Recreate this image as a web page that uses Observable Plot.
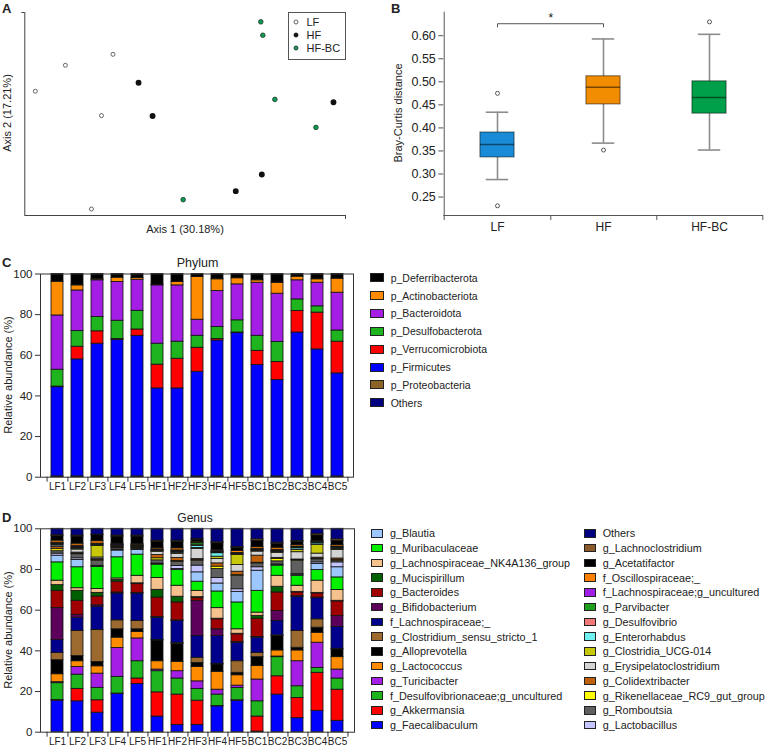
<!DOCTYPE html>
<html><head><meta charset="utf-8">
<script src="https://cdn.jsdelivr.net/npm/d3@7"></script>
<script src="https://cdn.jsdelivr.net/npm/@observablehq/plot@0.6"></script>
<style>
body{margin:0;background:#fff;font-family:"Liberation Sans",Arial,sans-serif;color:#222;}
#root{position:relative;width:766px;height:749px;overflow:hidden;background:#fff;}
</style></head>
<body><div id="root"></div>
<script>
// ---------------- Panel A: PCoA ----------------
const pcoaGroup = ["LF","LF","LF","LF","LF","HF","HF","HF","HF","HF","HF-BC","HF-BC","HF-BC","HF-BC","HF-BC"];
const pcoaAxis1 = [-0.299,-0.239,-0.144,-0.167,-0.187,-0.093,-0.065,0.296,0.153,0.101,0.151,0.155,0.179,0.261,-0.004];
const pcoaAxis2 = [0.056,0.120,0.147,-0.004,-0.234,0.077,-0.005,0.029,-0.149,-0.190,0.227,0.194,0.036,-0.033,-0.211];
const pcoaLabels = ["Axis 1 (30.18%)","Axis 2 (17.21%)"];

// ---------------- Panel B: Bray-Curtis boxplot ----------------
const boxGroups = ["LF","HF","HF-BC"];
const boxWhiskerLow = [0.288,0.367,0.352];
const boxQ1 = [0.336,0.451,0.431];
const boxMedian = [0.364,0.488,0.466];
const boxQ3 = [0.390,0.512,0.501];
const boxWhiskerHigh = [0.434,0.593,0.603];
const outlierGroup = ["LF","LF","HF","HF-BC"];
const outlierValue = [0.475,0.231,0.352,0.630];
const boxTicks = [0.25,0.30,0.35,0.40,0.45,0.50,0.55,0.60];
const sigPair = ["LF","HF"];
const sigLevel = [0.619,0.626];
const sigLabel = "*";

// ---------------- Panel C: Phylum ----------------
const samples = ["LF1","LF2","LF3","LF4","LF5","HF1","HF2","HF3","HF4","HF5","BC1","BC2","BC3","BC4","BC5"];
const phyla = ["Others","p_Proteobacteria","p_Firmicutes","p_Verrucomicrobiota","p_Desulfobacterota","p_Bacteroidota","p_Actinobacteriota","p_Deferribacterota"];
const phylumColors = ["#000080","#8c6428","#0000ff","#ff0000","#1eb41e","#a51ee6","#ff8c00","#000000"];
const phylumOthers = [0.1,0.1,0.1,0.1,0.1,0.1,0.1,0.1,0.1,0.1,0.1,0.1,0.1,0.1,0.1];
const phylumProteobacteria = [0.3,0.3,0.3,0.3,0.3,0.3,0.3,0.3,0.3,0.3,0.3,0.3,0.3,0.3,0.3];
const phylumFirmicutes = [43.9,57.6,65.3,67.2,69.2,43.3,43.3,51.5,66.9,70.5,54.8,47.4,70.8,62.5,50.7];
const phylumVerrucomicrobiota = [0.3,6.2,6.1,0.4,3.1,11.7,14.6,11.8,0.7,0.3,7.0,8.9,10.6,18.1,15.6];
const phylumDesulfobacterota = [8.3,7.7,7.0,9.0,9.2,10.3,8.4,5.9,5.9,6.0,7.4,9.8,5.7,3.1,5.5];
const phylumBacteroidota = [26.7,20.0,18.1,19.1,15.3,28.7,27.7,7.9,17.7,17.7,26.1,23.8,9.4,11.6,18.6];
const phylumActinobacteriota = [16.6,2.5,0.5,2.1,0.8,0.3,1.7,21.0,5.8,3.0,1.2,5.4,1.8,1.7,6.9];
const phylumDeferribacterota = [3.8,5.6,2.6,1.8,2.0,5.3,3.9,1.5,2.6,2.1,3.1,4.3,1.3,2.6,2.3];
const abundanceTicks = [0,20,40,60,80,100];

// ---------------- Panel D: Genus ----------------
const genera = ["g_Faecalibaculum","g_Akkermansia","f_Desulfovibrionaceae;g_uncultured","g_Turicibacter","g_Lactococcus","g_Alloprevotella","g_Clostridium_sensu_stricto_1","f_Lachnospiraceae;_","g_Bifidobacterium","g_Bacteroides","g_Mucispirillum","g_Lachnospiraceae_NK4A136_group","g_Muribaculaceae","g_Blautia","g_Lactobacillus","g_Romboutsia","g_Rikenellaceae_RC9_gut_group","g_Colidextribacter","g_Erysipelatoclostridium","g_Clostridia_UCG-014","g_Enterorhabdus","g_Desulfovibrio","g_Parvibacter","f_Lachnospiraceae;g_uncultured","f_Oscillospiraceae;_","g_Acetatifactor","g_Lachnoclostridium","Others"];
const genusColors = ["#0000ff","#ff0000","#1eb41e","#a51ee6","#ff8c00","#000000","#9c6a2e","#00008c","#5c005c","#a00000","#005f00","#f5c18c","#00f000","#9cc8ff","#c4c4ff","#5f5f5f","#ffff00","#c0600a","#d4d4d4","#c8c80a","#70f0f0","#f07878","#1ea01e","#a01ee6","#ff8000","#000000","#8c5a28","#000080"];
const genusLF1 = [15.5,0.3,8.3,0.5,3.9,6.9,3.5,6.4,15.7,8.5,2.8,2.2,9.0,3.3,1.0,1.2,1.0,1.0,0.8,0.4,0.2,0.2,0.3,0.3,1.0,2.2,0.5,3.1];
const genusLF2 = [15.2,6.1,7.0,3.8,2.8,2.5,12.4,6.5,1.4,6.9,4.9,1.3,10.3,3.6,0.8,2.0,0.3,0.5,1.5,0.5,0.2,0.3,0.4,0.5,1.0,3.5,0.5,3.3];
const genusLF3 = [9.6,6.1,6.1,7.0,3.6,2.1,15.7,11.5,0.7,4.3,1.8,1.9,10.8,0.3,0.3,2.5,0.3,0.5,0.8,5.7,0.2,0.3,0.3,0.3,1.2,3.0,0.2,2.9];
const genusLF4 = [18.8,0.2,8.2,14.2,5.1,4.1,4.4,13.2,0.5,5.3,0.8,0.8,10.4,3.3,0.3,0.8,0.2,0.3,0.4,0.3,0.1,0.2,0.2,0.2,0.4,3.5,0.5,3.3];
const genusLF5 = [23.7,2.7,8.5,11.2,3.2,1.3,4.1,13.5,0.3,4.3,0.4,3.7,10.4,2.3,0.2,0.5,0.2,0.3,0.3,0.2,0.1,0.2,0.2,0.2,0.5,3.7,0.5,3.3];
const genusHF1 = [7.7,11.9,10.4,0.8,4.1,10.2,0.3,10.9,0.3,9.6,3.8,5.8,6.6,0.2,0.3,1.6,1.0,1.6,1.6,0.3,0.2,0.2,0.2,0.3,0.6,3.2,0.5,5.8];
const genusHF2 = [3.6,14.9,7.9,3.6,4.6,8.9,0.3,10.9,0.3,8.8,2.8,5.4,7.7,0.5,1.5,2.0,0.5,1.5,2.0,0.5,0.3,0.3,0.3,0.3,1.0,3.3,0.5,5.8];
const genusHF3 = [3.6,11.9,5.8,3.7,7.1,2.0,2.5,10.7,17.3,1.3,0.5,3.1,4.5,4.6,3.3,2.4,0.3,0.5,5.0,0.5,1.0,0.3,1.0,0.3,0.5,1.0,0.3,5.0];
const genusHF4 = [12.7,0.2,5.6,2.4,8.8,3.6,0.3,13.7,3.3,4.9,0.3,5.2,8.2,3.9,2.7,4.4,1.2,1.6,2.2,1.1,1.7,0.3,0.3,0.3,0.5,3.5,0.5,6.6];
const genusHF5 = [15.5,0.2,6.0,1.2,5.1,1.2,5.7,9.1,0.3,3.8,0.3,2.2,13.2,5.2,1.3,6.6,0.3,1.7,3.3,4.9,0.2,0.2,0.3,0.3,1.0,1.5,0.5,8.9];
const genusBC1 = [0.3,7.4,7.5,10.7,6.6,4.4,2.1,7.5,0.3,9.0,1.4,1.6,10.7,9.9,1.7,1.9,0.3,3.5,2.0,0.3,0.2,0.3,0.3,0.3,0.8,3.0,0.8,5.2];
const genusBC2 = [18.5,9.0,9.4,0.3,3.0,7.1,0.3,7.1,4.9,9.1,2.8,5.4,5.0,0.3,0.3,1.5,1.2,0.5,2.5,0.3,0.3,0.3,0.3,0.3,1.0,2.0,0.5,6.8];
const genusBC3 = [6.9,9.9,5.8,12.3,5.3,1.3,8.3,16.8,0.3,1.8,0.3,3.0,4.9,0.3,0.5,6.6,0.3,0.3,3.6,1.1,0.8,0.3,0.3,0.3,0.7,1.5,0.5,6.0];
const genusBC4 = [10.5,18.7,2.4,12.4,4.9,2.5,4.1,10.4,0.3,2.0,0.3,6.0,5.2,3.0,0.8,1.5,0.3,0.5,2.0,4.2,0.8,0.3,0.3,0.3,0.3,2.8,0.7,2.5];
const genusBC5 = [5.6,15.3,5.5,4.4,6.1,3.8,0.3,10.7,5.5,7.1,0.3,5.3,6.2,5.0,2.4,0.8,0.3,0.8,4.2,0.5,0.3,0.3,0.3,0.3,0.7,2.0,0.8,5.2];

// ---------------- helpers ----------------
const root = document.getElementById("root");
const FONT = '"Liberation Sans", Arial, sans-serif';
function put(svg, left, top) {
  svg.style.position = "absolute"; svg.style.left = left + "px"; svg.style.top = top + "px";
  svg.style.overflow = "visible";
  root.appendChild(svg);
}
function label(text, x, y, o = {}) {
  const d = document.createElement("div");
  d.textContent = text;
  const size = o.size || 11;
  d.style.cssText = `position:absolute;white-space:nowrap;line-height:1;font-family:${FONT};font-size:${size}px;font-weight:${o.weight||"normal"};color:${o.color||"#222"};`;
  d.style.left = x + "px"; d.style.top = y + "px";
  const tx = o.anchor === "middle" ? "-50%" : o.anchor === "end" ? "-100%" : "0";
  d.style.transform = `translate(${tx},-50%)` + (o.rotate ? " rotate(-90deg)" : "");
  root.appendChild(d);
  return d;
}
function swatch(x, y, w, h, color) {
  const d = document.createElement("div");
  d.style.cssText = `position:absolute;left:${x}px;top:${y - h/2}px;width:${w}px;height:${h}px;background:${color};border:1px solid #222;box-sizing:border-box;`;
  root.appendChild(d);
}
const baseStyle = {fontFamily: FONT, fontSize: "11px", color: "#222", background: "transparent", overflow: "visible"};

// ---------------- Panel A ----------------
const pcoa = pcoaGroup.map((g, i) => ({group: g, a1: pcoaAxis1[i], a2: pcoaAxis2[i]}));
const xDomA = [-0.32, 0.32], yDomA = [-0.25, 0.25];
const plotA = Plot.plot({
  width: 360, height: 240, marginLeft: 24.3, marginTop: 12, marginRight: 15, marginBottom: 25,
  style: baseStyle,
  x: {domain: xDomA, axis: null}, y: {domain: yDomA, axis: null},
  marks: [
    Plot.ruleX([xDomA[0]], {stroke: "#444"}),
    Plot.ruleY([yDomA[0]], {stroke: "#444"}),
    Plot.axisY({ticks: [yDomA[1]], tickSize: 3, tickFormat: () => "", label: null, stroke: "#444"}),
    Plot.axisX({ticks: [xDomA[1]], tickSize: 4, tickFormat: () => "", label: null, stroke: "#444"}),
    Plot.dot(pcoa, {filter: d => d.group === "LF", x: "a1", y: "a2", r: 2, fill: "white", stroke: "#555", strokeWidth: 0.9}),
    Plot.dot(pcoa, {filter: d => d.group === "HF", x: "a1", y: "a2", r: 2.2, fill: "#111", stroke: "#111"}),
    Plot.dot(pcoa, {filter: d => d.group === "HF-BC", x: "a1", y: "a2", r: 2.3, fill: "#0d9a52", stroke: "#1d3a2a", strokeWidth: 0.8})
  ]
});
put(plotA, 0, 0);
label("A", 2, 8, {size: 13, weight: "bold"});
label(pcoaLabels[0], 185, 229, {size: 11, anchor: "middle"});
label(pcoaLabels[1], 7, 113, {size: 11, anchor: "middle", rotate: true});
// legend box
{
  const box = document.createElement("div");
  box.style.cssText = "position:absolute;left:288.3px;top:11.7px;width:57.4px;height:48.6px;border:1px solid #555;box-sizing:border-box;background:#fff;";
  root.appendChild(box);
  const legA = [["LF","white","#555"],["HF","#111","#111"],["HF-BC","#0d9a52","#1d3a2a"]];
  const ys = [22.3, 35.3, 48.3];
  legA.forEach(([t, f, s], i) => {
    const ns = "http://www.w3.org/2000/svg";
    const sv = document.createElementNS(ns, "svg");
    sv.setAttribute("width", 8); sv.setAttribute("height", 8);
    sv.style.cssText = `position:absolute;left:${295.7-4}px;top:${ys[i]-4}px;`;
    const c = document.createElementNS(ns, "circle");
    c.setAttribute("cx", 4); c.setAttribute("cy", 4); c.setAttribute("r", 2);
    c.setAttribute("fill", f); c.setAttribute("stroke", s); c.setAttribute("stroke-width", 0.9);
    sv.appendChild(c); root.appendChild(sv);
    label(t, 306.5, ys[i], {size: 11});
  });
}

// ---------------- Panel B ----------------
const boxStats = boxGroups.map((g, i) => ({group: g, lo: boxWhiskerLow[i], q1: boxQ1[i], med: boxMedian[i], q3: boxQ3[i], hi: boxWhiskerHigh[i]}));
const outliers = outlierGroup.map((g, i) => ({group: g, value: outlierValue[i]}));
const bLeft = 73.3, bWidth = 396, bRight = 3;
const stepB = (bWidth - bLeft - bRight) / boxGroups.length;
const boxW = 34.7, capW = 23;
const yDomB = [0.21, 0.651];
const bracket = [
  {x: sigPair[0], y: sigLevel[0]}, {x: sigPair[0], y: sigLevel[1]},
  {x: sigPair[1], y: sigLevel[1]}, {x: sigPair[1], y: sigLevel[0]}
];
const plotB = Plot.plot({
  width: bWidth, height: 240, marginLeft: bLeft, marginRight: bRight, marginTop: 11.7, marginBottom: 25,
  style: baseStyle,
  x: {domain: boxGroups, padding: 0, axis: null},
  y: {domain: yDomB, axis: null},
  color: {domain: boxGroups, range: ["#1a8bd6", "#f28c00", "#00a04a"]},
  marks: [
    Plot.ruleY([yDomB[0]], {stroke: "#555"}),
    Plot.ruleX([boxGroups[0]], {dx: -stepB / 2, stroke: "#555"}),
    Plot.axisY({ticks: boxTicks, tickFormat: d3.format(".2f"), tickSize: 5, tickPadding: 3, fontSize: 12.5, label: null, stroke: "#555"}),
    Plot.axisX({tickSize: 0, tickPadding: 7, fontSize: 12, label: null}),
    Plot.axisX({tickSize: 5, tickFormat: () => "", dx: stepB / 2, label: null, stroke: "#555"}),
    Plot.axisX({ticks: [boxGroups[0]], tickSize: 5, tickFormat: () => "", dx: -stepB / 2, label: null, stroke: "#555"}),
    Plot.ruleX(boxStats, {x: "group", y1: "lo", y2: "hi", stroke: "#8c8c8c", strokeWidth: 1.6}),
    Plot.tickY(boxStats, {x: "group", y: "lo", stroke: "#8c8c8c", strokeWidth: 1.6, insetLeft: (stepB - capW) / 2, insetRight: (stepB - capW) / 2}),
    Plot.tickY(boxStats, {x: "group", y: "hi", stroke: "#8c8c8c", strokeWidth: 1.6, insetLeft: (stepB - capW) / 2, insetRight: (stepB - capW) / 2}),
    Plot.barY(boxStats, {x: "group", y1: "q1", y2: "q3", fill: "group", insetLeft: (stepB - boxW) / 2, insetRight: (stepB - boxW) / 2}),
    Plot.barY(boxStats, {x: "group", y1: "q1", y2: "q3", fill: "none", stroke: "#000", strokeOpacity: 0.45, strokeWidth: 1.2, insetLeft: (stepB - boxW) / 2, insetRight: (stepB - boxW) / 2}),
    Plot.tickY(boxStats, {x: "group", y: "med", stroke: "#000", strokeOpacity: 0.5, strokeWidth: 1.5, insetLeft: (stepB - boxW) / 2, insetRight: (stepB - boxW) / 2}),
    Plot.dot(outliers, {x: "group", y: "value", r: 2, fill: "white", stroke: "#555", strokeWidth: 1}),
    Plot.line(bracket, {x: "x", y: "y", stroke: "#555", strokeWidth: 1}),
    Plot.text([sigLabel], {x: () => sigPair[0], y: () => 0.638, dx: stepB / 2, text: d => d, fontSize: 12, fill: "#111", stroke: "none"})
  ]
});
put(plotB, 370, 0);
label("B", 391, 8, {size: 13, weight: "bold"});
label("Bray-Curtis distance", 398.3, 113.3, {size: 11, anchor: "middle", rotate: true});

// ---------------- Panel C ----------------
const phylumSeries = [phylumOthers, phylumProteobacteria, phylumFirmicutes, phylumVerrucomicrobiota, phylumDesulfobacterota, phylumBacteroidota, phylumActinobacteriota, phylumDeferribacterota];
const phylumData = samples.flatMap((s, i) => phyla.map((p, j) => ({sample: s, taxon: p, value: phylumSeries[j][i]})));
function stackedPlot(data, domain, colors, w, h, mt, mb, ml, mr) {
  const step = (w - ml - mr) / samples.length;
  return Plot.plot({
    width: w, height: h, marginTop: mt, marginBottom: mb, marginLeft: ml, marginRight: mr,
    style: baseStyle,
    x: {domain: samples, paddingInner: 0.4, paddingOuter: 0.2, axis: null},
    y: {domain: [0, 100], axis: null},
    color: {domain, range: colors},
    marks: [
      Plot.barY(data, {x: "sample", y: "value", fill: "taxon", stroke: "#151515", strokeWidth: 0.85}),
      Plot.frame({stroke: "#333"}),
      Plot.axisY({ticks: abundanceTicks, tickSize: 5, tickPadding: 3, fontSize: 11.5, label: null, stroke: "#333"}),
      Plot.axisX({tickSize: 0, tickPadding: 6, fontSize: 10, label: null}),
      Plot.axisX({tickSize: 5, tickFormat: () => "", dx: step / 2, label: null, stroke: "#333"}),
      Plot.axisX({ticks: [samples[0]], tickSize: 5, tickFormat: () => "", dx: -step / 2, label: null, stroke: "#333"})
    ]
  });
}
put(stackedPlot(phylumData, phyla, phylumColors, 360, 250, 28.5, 18.3, 40, 7), 0, 245);
label("C", 2, 262, {size: 13, weight: "bold"});
label("Phylum", 197.5, 263, {size: 12.5, anchor: "middle"});
label("Relative abundance (%)", 8, 375, {size: 11, anchor: "middle", rotate: true});
phyla.slice().reverse().forEach((p, i) => {
  const y = 277.7 + i * 17.86;
  swatch(370, y, 14, 9, phylumColors[phyla.indexOf(p)]);
  label(p, 390.7, y, {size: 10.5});
});

// ---------------- Panel D ----------------
const genusSeries = [genusLF1, genusLF2, genusLF3, genusLF4, genusLF5, genusHF1, genusHF2, genusHF3, genusHF4, genusHF5, genusBC1, genusBC2, genusBC3, genusBC4, genusBC5];
const genusData = samples.flatMap((s, i) => genera.map((g, j) => ({sample: s, taxon: g, value: genusSeries[i][j]})));
put(stackedPlot(genusData, genera, genusColors, 360, 249, 28.3, 17.3, 40, 6), 0, 500);
label("D", 2, 517, {size: 13, weight: "bold"});
label("Genus", 195, 518, {size: 12, anchor: "middle"});
label("Relative abundance (%)", 8, 630, {size: 11, anchor: "middle", rotate: true});
const leftCol = genera.slice(0, 14).reverse();
const rightCol = genera.slice(14).reverse();
leftCol.forEach((g, i) => {
  const y = 533.3 + i * 14.75;
  swatch(371, y, 12, 8.5, genusColors[genera.indexOf(g)]);
  label(g, 390, y, {size: 10.8});
});
rightCol.forEach((g, i) => {
  const y = 533.3 + i * 14.75;
  swatch(584, y, 12, 8.5, genusColors[genera.indexOf(g)]);
  label(g, 602.7, y, {size: 10.8});
});
</script>
</body></html>
